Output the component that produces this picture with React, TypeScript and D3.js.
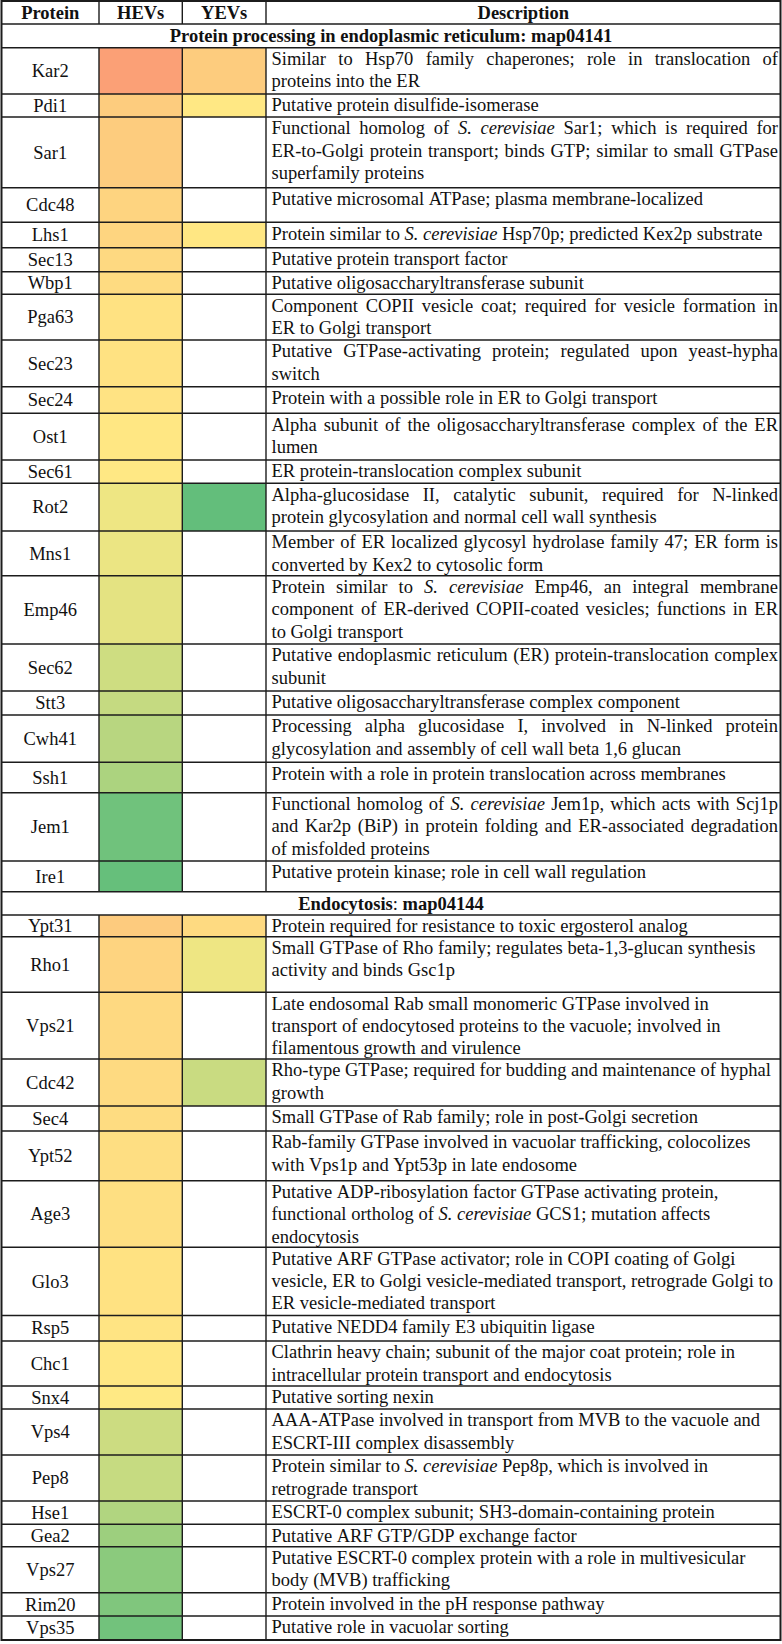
import React from 'react'
import * as d3 from 'd3'

// --- data ---
const columns = ['Protein', 'HEVs', 'YEVs', 'Description']

const sectionTitles = ['Protein processing in endoplasmic reticulum', 'Endocytosis']
const sectionMaps = ['map04141', 'map04144']

const erProteins = ['Kar2', 'Pdi1', 'Sar1', 'Cdc48', 'Lhs1', 'Sec13', 'Wbp1', 'Pga63', 'Sec23', 'Sec24', 'Ost1',
  'Sec61', 'Rot2', 'Mns1', 'Emp46', 'Sec62', 'Stt3', 'Cwh41', 'Ssh1', 'Jem1', 'Ire1']
const erHEVs = [79, 62, 62, 59, 58.5, 57, 56, 53.5, 53.5, 53, 51.5, 51, 44.6, 43.6, 41.3, 34.3, 31.4, 27.2, 23.4, 4.2, 1]
const erYEVs = [62, 51, null, null, 51.5, null, null, null, null, null, null, null, 0, null, null, null, null, null, null, null, null]
const erDescriptions = [
  'Similar to Hsp70 family chaperones; role in translocation of\nproteins into the ER',
  'Putative protein disulfide-isomerase',
  'Functional homolog of *S. cerevisiae* Sar1; which is required for\nER-to-Golgi protein transport; binds GTP; similar to small GTPase\nsuperfamily proteins',
  'Putative microsomal ATPase; plasma membrane-localized',
  'Protein similar to *S. cerevisiae* Hsp70p; predicted Kex2p substrate',
  'Putative protein transport factor',
  'Putative oligosaccharyltransferase subunit',
  'Component COPII vesicle coat; required for vesicle formation in\nER to Golgi transport',
  'Putative GTPase-activating protein; regulated upon yeast-hypha\nswitch',
  'Protein with a possible role in ER to Golgi transport',
  'Alpha subunit of the oligosaccharyltransferase complex of the ER\nlumen',
  'ER protein-translocation complex subunit',
  'Alpha-glucosidase II, catalytic subunit, required for N-linked\nprotein glycosylation and normal cell wall synthesis',
  'Member of ER localized glycosyl hydrolase family 47; ER form is\nconverted by Kex2 to cytosolic form',
  'Protein similar to *S. cerevisiae* Emp46, an integral membrane\ncomponent of ER-derived COPII-coated vesicles; functions in ER\nto Golgi transport',
  'Putative endoplasmic reticulum (ER) protein-translocation complex\nsubunit',
  'Putative oligosaccharyltransferase complex component',
  'Processing alpha glucosidase I, involved in N-linked protein\nglycosylation and assembly of cell wall beta 1,6 glucan',
  'Protein with a role in protein translocation across membranes',
  'Functional homolog of *S. cerevisiae* Jem1p, which acts with Scj1p\nand Kar2p (BiP) in protein folding and ER-associated degradation\nof misfolded proteins',
  'Putative protein kinase; role in cell wall regulation',
]

const endoProteins = ['Ypt31', 'Rho1', 'Vps21', 'Cdc42', 'Sec4', 'Ypt52', 'Age3', 'Glo3', 'Rsp5', 'Chc1', 'Snx4',
  'Vps4', 'Pep8', 'Hse1', 'Gea2', 'Vps27', 'Rim20', 'Vps35']
const endoHEVs = [62.5, 59, 57, 56.5, 55.8, 55, 54.6, 53.5, 52.7, 51.5, 50.8, 33.7, 31.7, 25, 18.6, 12.8, 9.3, 4.8]
const endoYEVs = [56.5, 44.6, null, 32.7, null, null, null, null, null, null, null, null, null, null, null, null, null, null]
const endoDescriptions = [
  'Protein required for resistance to toxic ergosterol analog',
  'Small GTPase of Rho family; regulates beta-1,3-glucan synthesis\nactivity and binds Gsc1p',
  'Late endosomal Rab small monomeric GTPase involved in\ntransport of endocytosed proteins to the vacuole; involved in\nfilamentous growth and virulence',
  'Rho-type GTPase; required for budding and maintenance of hyphal\ngrowth',
  'Small GTPase of Rab family; role in post-Golgi secretion',
  'Rab-family GTPase involved in vacuolar trafficking, colocolizes\nwith Vps1p and Ypt53p in late endosome',
  'Putative ADP-ribosylation factor GTPase activating protein,\nfunctional ortholog of *S. cerevisiae* GCS1; mutation affects\nendocytosis',
  'Putative ARF GTPase activator; role in COPI coating of Golgi\nvesicle, ER to Golgi vesicle-mediated transport, retrograde Golgi to\nER vesicle-mediated transport',
  'Putative NEDD4 family E3 ubiquitin ligase',
  'Clathrin heavy chain; subunit of the major coat protein; role in\nintracellular protein transport and endocytosis',
  'Putative sorting nexin',
  'AAA-ATPase involved in transport from MVB to the vacuole and\nESCRT-III complex disassembly',
  'Protein similar to *S. cerevisiae* Pep8p, which is involved in\nretrograde transport',
  'ESCRT-0 complex subunit; SH3-domain-containing protein',
  'Putative ARF GTP/GDP exchange factor',
  'Putative ESCRT-0 complex protein with a role in multivesicular\nbody (MVB) trafficking',
  'Protein involved in the pH response pathway',
  'Putative role in vacuolar sorting',
]

// --- layout ---
const W = 782
const H = 1644
const colEdges = [1.5, 99, 182.3, 266, 780.5]
const headerHeight = 23
const sectionHeights = [23.7, 23.3]
const erRowHeights = [46.3, 23, 70.7, 34.6, 25.4, 24, 22.6, 45.7, 46.7, 26.6, 46.7, 23.3, 47.7, 44.7, 68.3, 47, 24, 47.3, 30.4, 68.3, 30.7]
const endoRowHeights = [21.7, 55.6, 66.7, 47, 25, 49.7, 66.6, 68.2, 25.5, 45, 23, 46, 46, 23.3, 22.4, 46, 23.3, 24]
const FONT = "'Liberation Serif', 'Times New Roman', serif"
const FS = 18.5
const LINE_H = 22.4
const textLeft = 271.5
const textRight = 778

const color = d3.scaleLinear<string>()
  .domain([0, 50, 100])
  .range(['#63BE7B', '#FFEB84', '#F8696B'])
  .interpolate(d3.interpolateRgb)

let ctx: CanvasRenderingContext2D | null = null
const measure = (s: string, italic: boolean) => {
  if (!ctx) ctx = document.createElement('canvas').getContext('2d')
  ctx!.font = `${italic ? 'italic ' : ''}${FS}px 'Liberation Serif'`
  return ctx!.measureText(s).width
}

// split a line into words, keeping *italic* runs
const words = (line: string) => {
  const out: { text: string, italic: boolean }[] = []
  line.split('*').forEach((seg, i) => {
    seg.split(' ').filter(w => w.length).forEach(w => out.push({ text: w, italic: i % 2 === 1 }))
  })
  return out
}

const Description = ({ text, y, justify }: { text: string, y: number, justify: boolean }) => {
  const lines = text.split('\n')
  const space = measure(' ', false)
  return <g>
    {lines.map((line, li) => {
      const ws = words(line).map(w => ({ ...w, width: measure(w.text, w.italic) }))
      const total = d3.sum(ws, w => w.width)
      const gap = justify && li < lines.length - 1 && ws.length > 1
        ? (textRight - textLeft - total) / (ws.length - 1)
        : space
      let x = textLeft
      return ws.map((w, wi) => {
        const el = <text key={li + '-' + wi} x={x} y={y + 17.3 + li * LINE_H} fontStyle={w.italic ? 'italic' : 'normal'}>{w.text}</text>
        x += w.width + gap
        return el
      })
    })}
  </g>
}

export default function App() {
  type Row = { kind: 'header' | 'section' | 'data', y: number, h: number, s: number, i: number }
  const rows: Row[] = []
  let y = 1
  rows.push({ kind: 'header', y, h: headerHeight, s: 0, i: 0 })
  y += headerHeight
  const sections = [
    { proteins: erProteins, hevs: erHEVs, yevs: erYEVs, desc: erDescriptions, heights: erRowHeights, justify: true },
    { proteins: endoProteins, hevs: endoHEVs, yevs: endoYEVs, desc: endoDescriptions, heights: endoRowHeights, justify: false },
  ]
  sections.forEach((sec, s) => {
    rows.push({ kind: 'section', y, h: sectionHeights[s], s, i: 0 })
    y += sectionHeights[s]
    sec.proteins.forEach((_, i) => {
      rows.push({ kind: 'data', y, h: sec.heights[i], s, i })
      y += sec.heights[i]
    })
  })

  const cx = (c: number) => (colEdges[c] + colEdges[c + 1]) / 2
  const stroke = '#1c1c1c'

  return <svg width={W} height={H} viewBox={`0 0 ${W} ${H}`} style={{ position: 'absolute', left: 0, top: 0, background: '#fff' }}
    fontFamily={FONT} fontSize={FS} fill="#111">
    <rect x={0} y={0} width={W} height={H} fill="#fff" />
    {rows.map((r, k) => {
      if (r.kind === 'header') {
        return <g key={k}>
          {columns.map((c, ci) => <text key={c} x={cx(ci)} y={r.y + 17.5} textAnchor="middle" fontWeight="bold">{c}</text>)}
          {colEdges.slice(1, -1).map((x, ci) => <line key={ci} x1={x} x2={x} y1={r.y} y2={r.y + r.h} stroke={stroke} strokeWidth={1.4} />)}
        </g>
      }
      if (r.kind === 'section') {
        return <g key={k}>
          <text x={(colEdges[0] + colEdges[4]) / 2} y={r.y + 18} textAnchor="middle">
            <tspan fontWeight="bold">{sectionTitles[r.s]}</tspan>
            <tspan fontWeight={r.s === 0 ? 'bold' : 'normal'}>: </tspan>
            <tspan fontWeight="bold">{sectionMaps[r.s]}</tspan>
          </text>
        </g>
      }
      const sec = sections[r.s]
      const vals = [sec.hevs[r.i], sec.yevs[r.i]]
      return <g key={k}>
        {vals.map((v, vi) => v == null ? null :
          <rect key={vi} x={colEdges[vi + 1]} y={r.y} width={colEdges[vi + 2] - colEdges[vi + 1]} height={r.h} fill={color(v)} />)}
        <text x={cx(0)} y={r.y + r.h / 2 + 6.2} textAnchor="middle">{sec.proteins[r.i]}</text>
        <Description text={sec.desc[r.i]} y={r.y} justify={sec.justify} />
        {colEdges.slice(1, -1).map((x, ci) => <line key={ci} x1={x} x2={x} y1={r.y} y2={r.y + r.h} stroke={stroke} strokeWidth={1.4} />)}
      </g>
    })}
    {rows.slice(1).map((r, k) => <line key={'h' + k} x1={colEdges[0]} x2={colEdges[4]} y1={r.y} y2={r.y} stroke={stroke} strokeWidth={1.4} />)}
    <rect x={colEdges[0]} y={1} width={colEdges[4] - colEdges[0]} height={y - 1} fill="none" stroke={stroke} strokeWidth={2} />
  </svg>
}
